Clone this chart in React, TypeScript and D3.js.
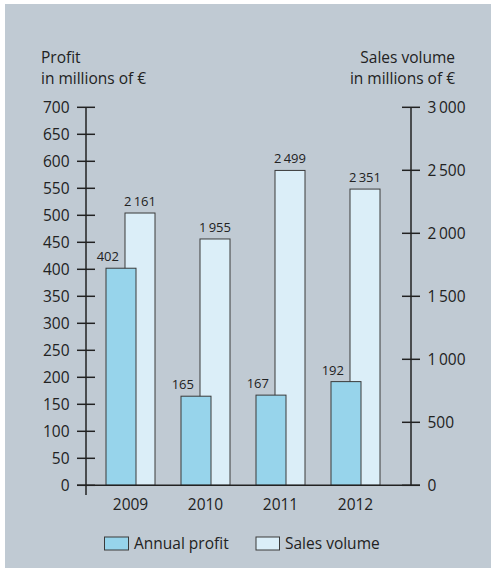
import React from 'react';
import * as d3 from 'd3';

const years = ['2009', '2010', '2011', '2012'];
const profit = [402, 165, 167, 192];
const sales = [2161, 1955, 2499, 2351];
const profitTicks = d3.range(0, 701, 50);
const salesTicks = d3.range(0, 3001, 500);
const legendItems = ['Annual profit', 'Sales volume'];

const W = 491;
const H = 575;
const FONT = "'Open Sans', sans-serif";
const FS = 15.5;
const TEXT = '#222';
const PROFIT_FILL = '#97d4eb';
const SALES_FILL = '#dbeef8';
const STROKE = '#3a3a3a';

// thin-space thousands, like the print original
const fmt = (v: number) => {
  const s = String(v);
  return s.length > 3 ? s.slice(0, s.length - 3) + '\u2009' + s.slice(-3) : s;
};

export default function App() {
  const axisL = 86;
  const axisR = 411;
  const y0 = 485.3;
  const yTop = 107.3;

  const yL = d3.scaleLinear().domain([0, 700]).range([y0, yTop]);
  const yR = d3.scaleLinear().domain([0, 3000]).range([y0, yTop]);
  const x = d3.scaleBand<string>().domain(years).range([106, 380]).paddingInner(26 / 75).paddingOuter(0);
  const bw = x.bandwidth();
  const barW = bw * 30 / 49;
  const salesOff = bw - barW;

  return (
    <svg width={W} height={H} style={{ position: 'absolute', left: 0, top: 0 }} fontFamily={FONT}>
      <rect x={5} y={4} width={W - 5} height={564} fill="#c0cad3" />

      {/* axis titles */}
      <text x={41} y={62.5} fontSize={FS} fill={TEXT}>Profit</text>
      <text x={41} y={84} fontSize={FS} fill={TEXT}>in millions of €</text>
      <text x={455} y={62.5} fontSize={FS} fill={TEXT} textAnchor="end">Sales volume</text>
      <text x={455} y={84} fontSize={FS} fill={TEXT} textAnchor="end">in millions of €</text>

      {/* bars */}
      {years.map((yr, i) => {
        const bx = x(yr)!;
        return (
          <g key={yr}>
            <rect x={bx + salesOff} y={yR(sales[i])} width={barW} height={y0 - yR(sales[i])}
              fill={SALES_FILL} stroke={STROKE} strokeWidth={1} />
            <rect x={bx} y={yL(profit[i])} width={barW} height={y0 - yL(profit[i])}
              fill={PROFIT_FILL} stroke={STROKE} strokeWidth={1} />
            <text x={bx + salesOff + barW / 2} y={yR(sales[i]) - 7} fontSize={13} fill={TEXT} textAnchor="middle">
              {fmt(sales[i])}
            </text>
            <text x={bx + salesOff - 6} y={yL(profit[i]) - 7} fontSize={13} fill={TEXT} textAnchor="end">
              {profit[i]}
            </text>
            <text x={bx + bw / 2} y={510} fontSize={FS} fill={TEXT} textAnchor="middle">{yr}</text>
          </g>
        );
      })}

      {/* baseline */}
      <line x1={77} x2={420} y1={y0} y2={y0} stroke={TEXT} strokeWidth={1.5} />

      {/* left axis */}
      <line x1={axisL} x2={axisL} y1={yTop} y2={495} stroke={TEXT} strokeWidth={1.5} />
      {profitTicks.map(t => (
        <g key={t}>
          <line x1={axisL - 9} x2={axisL + 9} y1={yL(t)} y2={yL(t)} stroke={TEXT} strokeWidth={1.5} />
          <text x={69.5} y={yL(t) + 5.4} fontSize={FS} fill={TEXT} textAnchor="end">{t}</text>
        </g>
      ))}

      {/* right axis */}
      <line x1={axisR} x2={axisR} y1={yTop} y2={y0} stroke={TEXT} strokeWidth={1.5} />
      {salesTicks.map(t => (
        <g key={t}>
          <line x1={axisR - 9} x2={axisR + 9} y1={yR(t)} y2={yR(t)} stroke={TEXT} strokeWidth={1.5} />
          <text x={427.5} y={yR(t) + 5.4} fontSize={FS} fill={TEXT}>{fmt(t)}</text>
        </g>
      ))}

      {/* legend */}
      <rect x={104.5} y={537} width={24} height={13} fill={PROFIT_FILL} stroke={STROKE} strokeWidth={1} />
      <text x={134} y={548.5} fontSize={FS} fill={TEXT}>{legendItems[0]}</text>
      <rect x={256} y={537} width={23.5} height={13} fill={SALES_FILL} stroke={STROKE} strokeWidth={1} />
      <text x={285} y={548.5} fontSize={FS} fill={TEXT}>{legendItems[1]}</text>
    </svg>
  );
}
